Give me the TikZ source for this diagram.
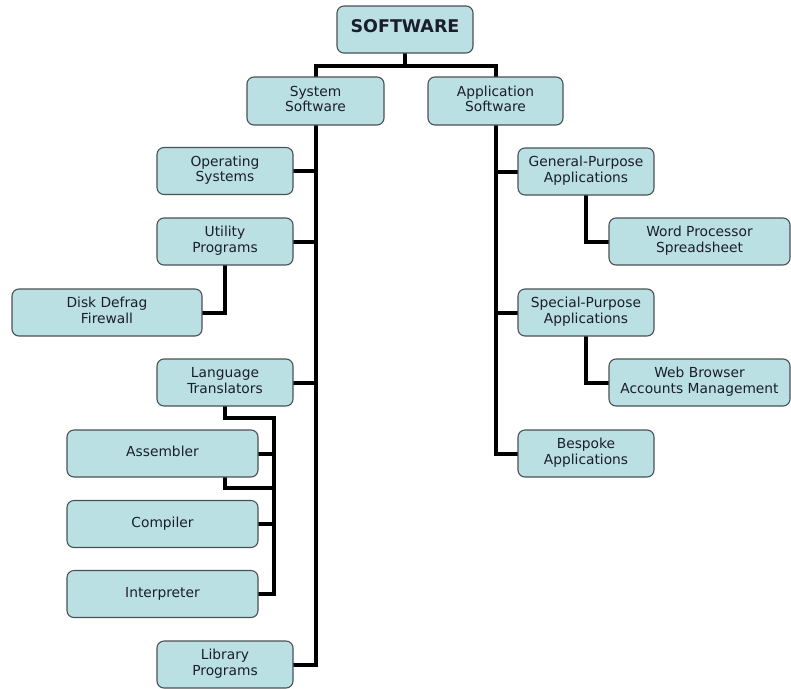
\documentclass[tikz,border=0pt]{standalone}
\usepackage{fontspec}
\setmainfont{DejaVu Sans}
\usetikzlibrary{backgrounds}
\definecolor{boxfill}{HTML}{BBE0E3}
\definecolor{boxline}{HTML}{4A5155}
\definecolor{txt}{HTML}{1A1E2A}
\newcommand{\bxt}[1]{\raisebox{4pt}{\begin{tabular}{@{}c@{}}#1\end{tabular}}}
\tikzset{
  box/.style={draw=boxline, line width=1.1pt, fill=boxfill, rounded corners=7pt,
    text=txt, font=\fontsize{13.8}{15.5}\selectfont, inner sep=0pt, minimum height=47pt},
  conn/.style={line width=4pt, line cap=rect, black}
}
\begin{document}
\begin{tikzpicture}[x=1pt,y=-1pt]
\useasboundingbox (0,0) rectangle (791,688);
\node[box, minimum width=136pt, font=\fontsize{17.5}{20}\selectfont\bfseries] (sw) at (405,29.5) {\raisebox{6pt}{SOFTWARE}};
\node[box, minimum width=137pt, minimum height=48pt] (sys) at (315.5,101) {\bxt{System\\Software}};
\node[box, minimum width=135pt, minimum height=48pt] (app) at (495.5,101) {\bxt{Application\\Software}};
\node[box, minimum width=136pt] (os) at (225,171) {\bxt{Operating\\Systems}};
\node[box, minimum width=136pt] (ut) at (225,241.5) {\bxt{Utility\\Programs}};
\node[box, minimum width=190pt] (dd) at (107,312.5) {\bxt{Disk Defrag\\Firewall}};
\node[box, minimum width=136pt] (lt) at (225,382.5) {\bxt{Language\\Translators}};
\node[box, minimum width=191pt] (as) at (162.5,453.5) {\bxt{Assembler}};
\node[box, minimum width=191pt] (co) at (162.5,524) {\bxt{Compiler}};
\node[box, minimum width=191pt] (in) at (162.5,594) {\bxt{Interpreter}};
\node[box, minimum width=136pt] (lp) at (225,664.5) {\bxt{Library\\Programs}};
\node[box, minimum width=136pt] (gp) at (586,171.5) {\bxt{General-Purpose\\Applications}};
\node[box, minimum width=181pt] (wp) at (699.5,241.5) {\bxt{Word Processor\\Spreadsheet}};
\node[box, minimum width=136pt] (spa) at (586,312.5) {\bxt{Special-Purpose\\Applications}};
\node[box, minimum width=181pt] (wb) at (699.5,382.5) {\bxt{Web Browser\\Accounts Management}};
\node[box, minimum width=136pt] (be) at (586,453.5) {\bxt{Bespoke\\Applications}};
\coordinate (top) at (405,66);
\coordinate (ltbus) at (274,418);
\coordinate (asj) at (274,488);
\begin{scope}[on background layer]
\draw[conn] (sw.south) -- (top);
\draw[conn] (top) -| (sys.north);
\draw[conn] (top) -| (app.north);
\draw[conn] (sys.south) -- (sys.south |- lp.east) -- (lp.east);
\draw[conn] (os.east) -- (os.east -| sys.south);
\draw[conn] (ut.east) -- (ut.east -| sys.south);
\draw[conn] (lt.east) -- (lt.east -| sys.south);
\draw[conn] (ut.south) |- (dd.east);
\draw[conn] (lt.south) |- (ltbus) -- (ltbus |- in.east) -- (in.east);
\draw[conn] (as.east) -- (as.east -| ltbus);
\draw[conn] (co.east) -- (co.east -| ltbus);
\draw[conn] (lt.south |- as.south) |- (asj);
\draw[conn] (app.south) -- (app.south |- be.west) -- (be.west);
\draw[conn] (gp.west) -- (gp.west -| app.south);
\draw[conn] (spa.west) -- (spa.west -| app.south);
\draw[conn] (gp.south) |- (wp.west);
\draw[conn] (spa.south) |- (wb.west);
\end{scope}
\end{tikzpicture}
\end{document}
